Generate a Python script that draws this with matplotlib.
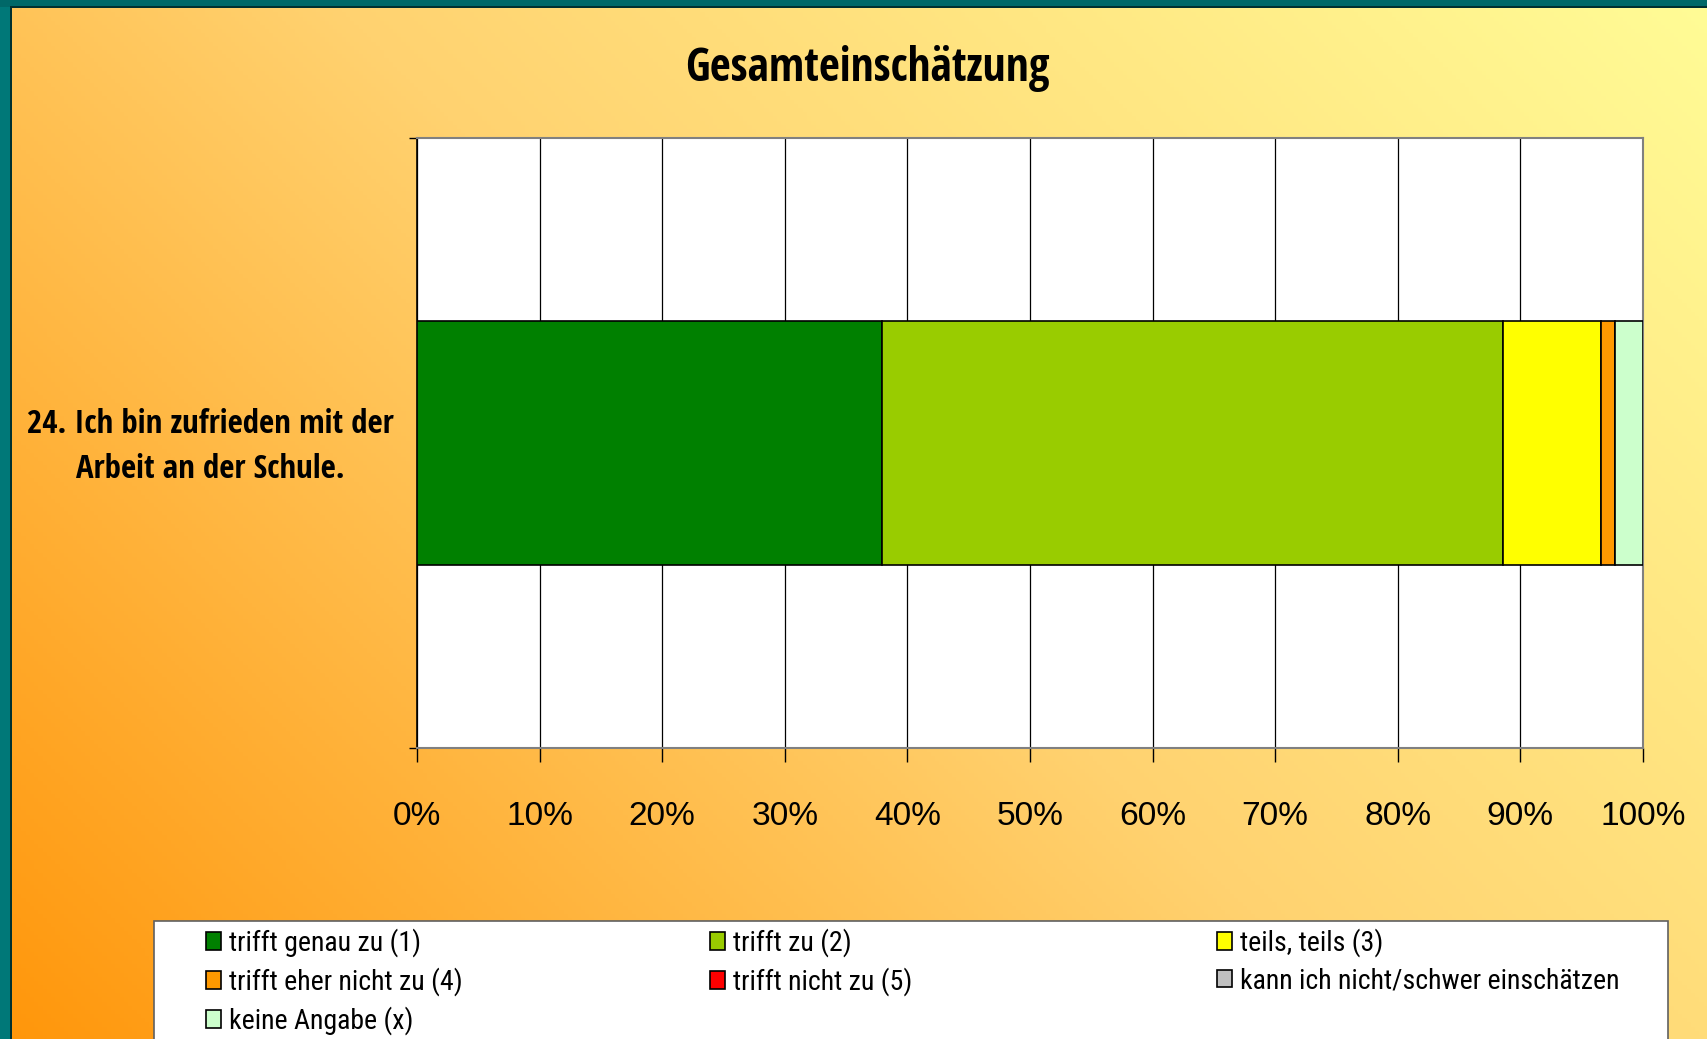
import matplotlib
matplotlib.use("Agg")
import matplotlib.pyplot as plt
import numpy as np
from matplotlib import font_manager
from matplotlib.font_manager import FontProperties
from matplotlib.patches import Rectangle
from matplotlib.transforms import ScaledTranslation

# ---- data ----
title = "Gesamteinschätzung"
category = "24. Ich bin zufrieden mit der\nArbeit an der Schule."
series_names = ["trifft genau zu (1)", "trifft zu (2)", "teils, teils (3)",
                "trifft eher nicht zu (4)", "trifft nicht zu (5)",
                "kann ich nicht/schwer einschätzen", "keine Angabe (x)"]
series_values = [0.379, 0.507, 0.080, 0.011, 0.0, 0.0, 0.023]
series_colors = ["#008000", "#99CC00", "#FFFF00", "#FF9900", "#FF0000", "#C0C0C0", "#CCFFCC"]
tick_values = [i / 10 for i in range(11)]
tick_labels = [f"{i*10}%" for i in range(11)]


# ---- font selection: prefer a narrow/condensed sans ----
def find_narrow(bold):
    prefs = ["liberation sans narrow", "arial narrow", "noto sans", "open sans",
             "roboto", "dejavu sans", "lato", "inter"]
    cands = []
    for f in font_manager.fontManager.ttflist:
        fn = f.fname.lower()
        nm = f.name.lower()
        if not (("narrow" in fn) or ("condensed" in fn) or ("narrow" in nm)
                or ("condensed" in nm) or f.stretch in ("condensed", "semi-condensed")):
            continue
        if "italic" in fn or "oblique" in fn or f.style != "normal":
            continue
        if "semicondensed" in fn or "extracondensed" in fn or "ultracondensed" in fn:
            continue
        if "mono" in fn or "serif" in fn and "sans" not in fn:
            continue
        w = f.weight if isinstance(f.weight, int) else (700 if "bold" in str(f.weight) else 400)
        if bold and w < 600:
            continue
        if not bold and (w >= 600 or w < 350):
            continue
        if bold and w > 750:
            continue
        rank = len(prefs)
        for i, p in enumerate(prefs):
            if p in nm or p.replace(" ", "") in fn:
                rank = i
                break
        cands.append((rank, f.fname))
    if cands:
        cands.sort()
        return FontProperties(fname=cands[0][1])
    return FontProperties(family="Liberation Sans", weight="bold" if bold else "normal")


fp_bold = find_narrow(True)
fp_reg = find_narrow(False)
fp_ticks = FontProperties(family="Liberation Sans")

W, H = 1708, 1039
fig = plt.figure(figsize=(W / 100, H / 100), dpi=100)
renderer = fig.canvas.get_renderer()


def measure(text, fp, size):
    p = fp.copy()
    p.set_size(size)
    t = fig.text(0, 0, text, fontproperties=p)
    bb = t.get_window_extent(renderer)
    t.remove()
    return bb.width, bb.height


def fit_size(text, fp, target_w, max_size):
    w, _ = measure(text, fp, 20)
    return min(max_size, 20 * target_w / w)


# background gradient
bg = fig.add_axes([0, 0, 1, 1], zorder=-10)
bg.set_axis_off()
xs = np.linspace(0, 1, 400)
ys = np.linspace(0, 1, 250)
X, Y = np.meshgrid(xs, ys)
t = np.clip(X * 0.62 + Y * 0.38, 0, 1)
stops_t = [0.0, 0.5, 1.0]
stops_c = np.array([[255, 150, 10], [255, 210, 112], [255, 252, 150]]) / 255
img = np.zeros((len(ys), len(xs), 3))
for c in range(3):
    img[..., c] = np.interp(t, stops_t, stops_c[:, c])
bg.imshow(img, origin="lower", extent=[0, 1, 0, 1], aspect="auto")
bg.set_xlim(0, 1)
bg.set_ylim(0, 1)
bg.add_patch(Rectangle((0, 0), 11 / W, 1, color="#007878", lw=0))
bg.add_patch(Rectangle((0, 1 - 7 / H), 1, 7 / H, color="#006868", lw=0))
bg.add_patch(Rectangle((10 / W, 0), 2 / W, 1 - 6 / H, color="#003030", lw=0))
bg.add_patch(Rectangle((10 / W, 1 - 8 / H), 1, 2 / H, color="#003030", lw=0))

# legend frame
lx0, lx1, ly0 = 154, 1668, 921
bg.add_patch(Rectangle((lx0 / W, -0.05), (lx1 - lx0) / W, (H - ly0) / H + 0.05,
                       facecolor="white", edgecolor="#606060", lw=1.2))

# main axes
left, right, top, bottom = 417, 1643, 138, 748
ax = fig.add_axes([left / W, 1 - bottom / H, (right - left) / W, (bottom - top) / H])
ax.set_facecolor("white")
handles = []
cum = 0.0
for name, v, c in zip(series_names, series_values, series_colors):
    b = ax.barh([0], [v], left=cum, height=0.4, color=c, edgecolor="black",
                linewidth=1.2, label=name, zorder=3)
    handles.append(b)
    cum += v
ax.set_xlim(0, 1)
ax.set_ylim(-0.5, 0.5)

tick_size = fit_size("100%", fp_ticks, 86, 28)
ax.set_xticks(tick_values, labels=tick_labels)
for lab in ax.get_xticklabels():
    lab.set_fontproperties(fp_ticks)
    lab.set_fontsize(tick_size)
ax.tick_params(axis="x", direction="out", length=10, width=1, pad=28, colors="black")
ax.xaxis.grid(True, color="black", linewidth=0.9, zorder=1)
ax.set_axisbelow(True)

cat_size = fit_size("24. Ich bin zufrieden mit der", fp_bold, 366, 30)
ax.set_yticks([0], labels=[category])
ax.set_yticks([-0.5, 0.5], minor=True)
ax.tick_params(axis="y", which="major", length=0, pad=17)
ax.tick_params(axis="y", which="minor", length=6, width=1, direction="out")
for lab in ax.get_yticklabels():
    lab.set_fontproperties(fp_bold)
    lab.set_fontsize(cat_size)
    lab.set_multialignment("center")
    lab.set_linespacing(1.45)
    lab.set_verticalalignment("center")
    lab.set_transform(lab.get_transform() + ScaledTranslation(0, -4 / 100, fig.dpi_scale_trans))
for s in ["top", "bottom", "right"]:
    ax.spines[s].set_color("#808080")
    ax.spines[s].set_linewidth(1.5)
ax.spines["left"].set_color("black")
ax.spines["left"].set_linewidth(1.2)

title_size = fit_size(title, fp_bold, 365, 36)
tp = fp_bold.copy()
tp.set_size(title_size)
fig.text(867 / W, 1 - 69 / H, title, ha="center", va="center", fontproperties=tp)

# legend: three columns, row-major order
leg_size = fit_size("kann ich nicht/schwer einschätzen", fp_reg, 380, 22)
size_px = leg_size * 100 / 72
_, text_h = measure("trifft genau zu (1)", fp_reg, leg_size)
row_h = 39
labelspacing = max(0.0, (row_h - max(text_h, 16)) / size_px)
lp = fp_reg.copy()
lp.set_size(leg_size)
cols = [[0, 3, 6], [1, 4], [2, 5]]
col_x = [206, 710, 1217]
top_y = 943 - row_h / 2 + 5
for cx, idx in zip(col_x, cols):
    fig.legend([handles[i] for i in idx], [series_names[i] for i in idx],
               loc="upper left", bbox_to_anchor=(cx / W, 1 - top_y / H),
               frameon=False, prop=lp,
               handlelength=15 / size_px, handleheight=16 / size_px,
               handletextpad=8 / size_px,
               labelspacing=labelspacing, borderpad=0, borderaxespad=0)

fig.savefig("out.png", dpi=100)
